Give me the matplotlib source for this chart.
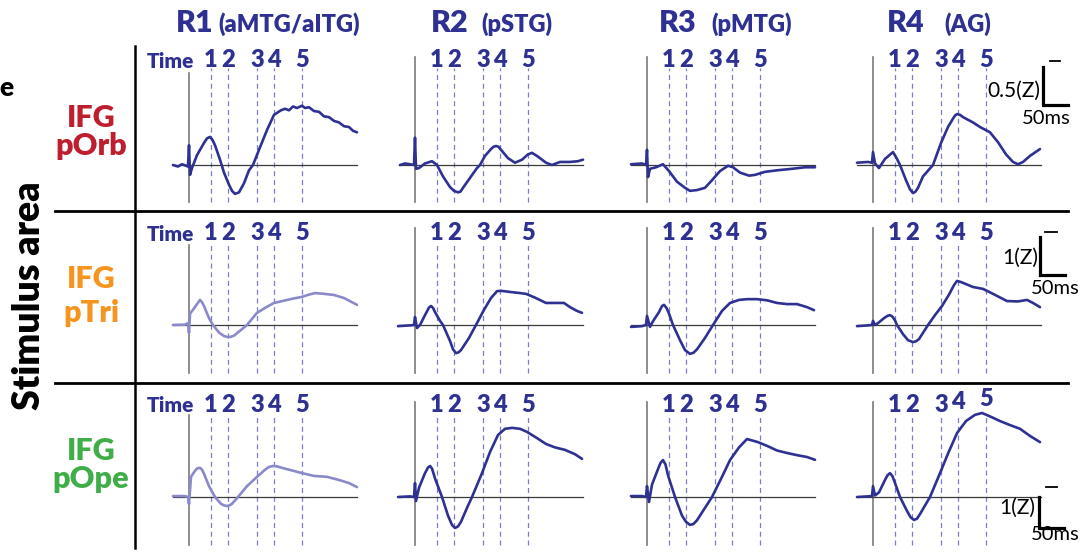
import matplotlib
matplotlib.use('Agg')
import matplotlib.pyplot as plt
from matplotlib.lines import Line2D

plt.rcParams['font.family'] = ['Lato', 'DejaVu Sans']

# ---- data: time (ms) and response (Z) ----
time_marks = [44, 78, 136, 170, 226]
mark_labels = ['1', '2', '3', '4', '5']
col_names = ['R1', 'R2', 'R3', 'R4']
col_regions = ['(aMTG/aITG)', '(pSTG)', '(pMTG)', '(AG)']
row_areas = ['pOrb', 'pTri', 'pOpe']
row_colors = ['#be1e2d', '#f7941d', '#3fae49']
scale_labels = ['0.5(Z)', '1(Z)', '1(Z)']
scale_heights = [0.5, 1, 1]

# IFG pOrb
porb_r1_t = [-32, -22, -14, -6, -2, 0, 2, 6, 16, 30, 36, 42, 47, 52, 62, 70, 80, 86, 92, 100, 110, 120, 128, 140, 156,
             170, 184, 192, 200, 208, 216, 226, 232, 240, 250, 260, 270, 280, 290, 300, 310, 320, 328, 336]
porb_r1_z = [0, -0.02, 0.01, -0.01, -0.02, 0.26, -0.13, -0.04, 0.13, 0.29, 0.35, 0.37, 0.33, 0.26, 0.07, -0.1, -0.26,
             -0.34, -0.38, -0.36, -0.24, -0.07, 0, 0.2, 0.46, 0.66, 0.72, 0.74, 0.72, 0.77, 0.75, 0.78, 0.75, 0.76,
             0.71, 0.7, 0.64, 0.63, 0.58, 0.56, 0.51, 0.5, 0.45, 0.43]
porb_r2_t = [-30, -20, -10, -2, 0, 2, 8, 20, 34, 44, 56, 70, 78, 86, 91, 96, 110, 124, 130, 140, 152, 157, 162, 167,
             172, 186, 200, 214, 226, 234, 246, 262, 274, 290, 310, 326, 336]
porb_r2_z = [0, 0.02, 0.01, 0, 0.36, -0.05, -0.04, 0.02, 0.05, 0, -0.15, -0.29, -0.34, -0.36, -0.35, -0.3, -0.17,
             -0.04, 0, 0.12, 0.21, 0.24, 0.25, 0.24, 0.2, 0.09, 0.03, 0.07, 0.14, 0.16, 0.11, 0.03, 0, 0.04, 0.04,
             0.05, 0.07]
porb_r3_t = [-32, -10, -2, 0, 2, 6, 18, 32, 44, 60, 76, 86, 100, 116, 130, 146, 162, 172, 186, 204, 216, 236, 260, 290,
             316, 336]
porb_r3_z = [0.01, 0.02, 0, 0.2, -0.16, -0.05, -0.03, 0.01, -0.08, -0.22, -0.3, -0.34, -0.33, -0.3, -0.2, -0.08, -0.01,
             -0.03, -0.1, -0.14, -0.13, -0.09, -0.07, -0.05, -0.03, -0.03]
porb_r4_t = [-32, -10, -2, 0, 4, 12, 24, 40, 48, 54, 66, 74, 80, 85, 90, 100, 120, 136, 150, 160, 164, 168, 174, 180,
             200, 214, 234, 250, 266, 280, 290, 300, 314, 334]
porb_r4_z = [0.03, 0.04, 0.03, 0.17, 0.02, -0.04, 0.08, 0.17, 0.08, 0, -0.2, -0.32, -0.37, -0.35, -0.3, -0.15, 0, 0.29,
             0.5, 0.61, 0.65, 0.67, 0.66, 0.63, 0.56, 0.5, 0.43, 0.3, 0.14, 0.04, 0.01, 0.04, 0.12, 0.21]

# IFG pTri
ptri_r1_t = [-32, -8, -2, 0, 2, 8, 16, 22, 26, 30, 40, 48, 60, 70, 78, 84, 90, 104, 116, 136, 152, 170, 190, 210, 226,
             240, 252, 270, 290, 310, 326, 336]
ptri_r1_z = [0, 0.01, 0.05, -0.21, 0.3, 0.4, 0.55, 0.66, 0.6, 0.5, 0.18, 0, -0.2, -0.29, -0.32, -0.31, -0.28, -0.13, 0,
             0.32, 0.45, 0.58, 0.64, 0.7, 0.74, 0.8, 0.84, 0.82, 0.79, 0.71, 0.6, 0.53]
ptri_r2_t = [-34, -10, -2, 0, 4, 10, 20, 28, 32, 36, 40, 50, 56, 70, 76, 82, 87, 92, 108, 122, 138, 152, 164, 172, 190,
             210, 222, 240, 262, 280, 298, 310, 324, 334]
ptri_r2_z = [-0.03, -0.01, 0, 0.21, -0.08, 0, 0.26, 0.46, 0.5, 0.45, 0.34, 0.11, 0, -0.42, -0.64, -0.74, -0.72, -0.66,
             -0.34, 0, 0.4, 0.71, 0.89, 0.9, 0.87, 0.84, 0.82, 0.72, 0.58, 0.58, 0.58, 0.47, 0.37, 0.32]
ptri_r3_t = [-32, -10, -2, 0, 6, 12, 24, 30, 34, 39, 44, 52, 66, 76, 86, 93, 100, 116, 132, 150, 166, 184, 200, 220,
             240, 260, 280, 300, 320, 334]
ptri_r3_z = [-0.05, -0.03, 0, 0.24, -0.05, 0.1, 0.34, 0.5, 0.53, 0.45, 0.3, 0, -0.4, -0.66, -0.76, -0.73, -0.64, -0.34,
             0, 0.37, 0.58, 0.66, 0.68, 0.68, 0.65, 0.58, 0.55, 0.55, 0.47, 0.39]
ptri_r4_t = [-32, -10, -2, 0, 4, 10, 22, 29, 34, 39, 44, 48, 60, 70, 80, 86, 92, 110, 124, 138, 152, 162, 168, 176,
             200, 220, 240, 268, 290, 308, 320, 334]
ptri_r4_z = [-0.03, -0.01, 0, 0.11, 0, 0.05, 0.18, 0.24, 0.26, 0.22, 0.12, 0, -0.24, -0.4, -0.45, -0.43, -0.37, 0,
             0.26, 0.5, 0.8, 1.05, 1.16, 1.13, 1.0, 0.95, 0.82, 0.63, 0.62, 0.66, 0.58, 0.47]

# IFG pOpe
pope_r1_t = [-32, -8, -2, 0, 4, 10, 16, 22, 26, 30, 40, 52, 64, 70, 76, 81, 86, 98, 116, 136, 152, 160, 168, 176, 186,
             210, 226, 250, 276, 300, 320, 336]
pope_r1_z = [0.03, 0.03, 0, -0.23, 0.65, 0.8, 0.92, 0.94, 0.88, 0.75, 0.35, 0, -0.22, -0.27, -0.29, -0.27, -0.22, 0,
             0.35, 0.65, 0.88, 0.97, 1.0, 0.99, 0.94, 0.84, 0.77, 0.68, 0.65, 0.55, 0.45, 0.32]
pope_r2_t = [-34, -10, -2, 0, 2, 8, 20, 26, 30, 34, 40, 54, 66, 74, 80, 86, 92, 104, 114, 134, 150, 166, 180, 194, 210,
             224, 244, 262, 280, 300, 320, 334]
pope_r2_z = [0, 0.02, 0, 0.45, -0.13, 0.3, 0.77, 0.95, 1.0, 0.92, 0.6, 0, -0.6, -0.9, -1.0, -0.95, -0.8, -0.35, 0, 0.77,
             1.45, 2.0, 2.2, 2.23, 2.2, 2.1, 1.9, 1.71, 1.6, 1.52, 1.38, 1.23]
pope_r3_t = [-32, -10, -2, 0, 4, 10, 22, 27, 32, 37, 42, 56, 70, 78, 86, 93, 100, 116, 130, 150, 166, 184, 200, 222,
             240, 260, 280, 300, 320, 336]
pope_r3_z = [0.03, 0.03, 0, 0.35, -0.16, 0.4, 0.9, 1.1, 1.19, 1.05, 0.7, 0, -0.6, -0.8, -0.9, -0.87, -0.75, -0.35, 0,
             0.65, 1.19, 1.6, 1.87, 1.77, 1.65, 1.5, 1.42, 1.35, 1.29, 1.2]
pope_r4_t = [-32, -10, -2, 0, 4, 12, 24, 29, 34, 39, 44, 54, 68, 75, 82, 88, 94, 114, 134, 150, 168, 186, 204, 218,
             234, 254, 274, 294, 314, 334]
pope_r4_z = [0, 0.02, 0.03, 0.35, 0.05, 0.15, 0.55, 0.7, 0.77, 0.67, 0.45, 0, -0.45, -0.65, -0.74, -0.7, -0.55, 0, 0.77,
             1.4, 2.06, 2.45, 2.65, 2.71, 2.6, 2.45, 2.32, 2.2, 1.97, 1.77]

traces = [
    [(porb_r1_t, porb_r1_z), (porb_r2_t, porb_r2_z), (porb_r3_t, porb_r3_z), (porb_r4_t, porb_r4_z)],
    [(ptri_r1_t, ptri_r1_z), (ptri_r2_t, ptri_r2_z), (ptri_r3_t, ptri_r3_z), (ptri_r4_t, ptri_r4_z)],
    [(pope_r1_t, pope_r1_z), (pope_r2_t, pope_r2_z), (pope_r3_t, pope_r3_z), (pope_r4_t, pope_r4_z)],
]

# ---- layout (pixels of the 1088x554 picture) ----
W, H = 1088, 554
NAVY = '#2e3192'
LIGHT = '#8a8acb'
DASH = '#7d7dc6'
WT = 'heavy'

zero_px = [189, 415, 647, 873]
base_px = [165, 325, 497]
px_per_z = [76, 38, 31]
row_span = [(40, 211), (212, 382), (383, 554)]
zero_top = [(73, 57), (245, 228), (415, 402)]
dash_top = [68, 243, 416]
line_bot = [202, 373, 545]
num_y = [60, 233, 405]

fig = plt.figure(figsize=(W / 100, H / 100), dpi=100)


def fx(x):
    return x / W


def fy(y):
    return 1 - y / H


def zpix(r, y):
    # picture row -> Z value in row r
    return (base_px[r] - y) / px_per_z[r]


for r in range(3):
    top, bot = row_span[r]
    for c in range(4):
        left = zero_px[c] - 45
        right = min(zero_px[c] + 215, W)
        ax = fig.add_axes([fx(left), fy(bot), (right - left) / W, (bot - top) / H])
        ax.set_xlim((left - zero_px[c]) * 2, (right - zero_px[c]) * 2)
        ax.set_ylim(zpix(r, bot), zpix(r, top))
        ax.axis('off')

        zt = zero_top[r][0] if c == 0 else zero_top[r][1]
        ax.plot([0, 0], [zpix(r, line_bot[r]), zpix(r, zt)], color='#7a7a7a', lw=1.2)
        for tm in time_marks:
            ax.plot([tm, tm], [zpix(r, line_bot[r]), zpix(r, dash_top[r])], color=DASH, lw=0.9,
                    ls=(0, (4, 3)))
        ax.plot([-32, 336], [0, 0], color='#3a3a3a', lw=0.9)

        t, z = traces[r][c]
        ax.plot(t, z, color=LIGHT if (c == 0 and r > 0) else NAVY, lw=1.9,
                solid_capstyle='round', solid_joinstyle='round')

        for i, tm in enumerate(time_marks):
            dy = 0
            if r == 2 and c == 3 and i >= 3:
                dy = [3, 6][i - 3]
            ax.text(tm, zpix(r, num_y[r] - dy), mark_labels[i], ha='center', va='center', fontsize=17,
                    fontweight=WT, color=NAVY)
        if c == 0:
            ax.text(10, zpix(r, num_y[r] + 1), 'Time', ha='right', va='center', fontsize=15,
                    fontweight=WT, color=NAVY)

        if c == 3:
            bar_x = [340, 334, 332][r]
            bar_z = [zpix(0, 105), zpix(1, 275), zpix(2, 528)][r]
            hgt = scale_heights[r]
            ax.plot([bar_x, bar_x, bar_x + 50], [bar_z + hgt, bar_z, bar_z], color='black', lw=2.3,
                    solid_joinstyle='miter', clip_on=False)
            tick_t = [(354, 374), (344, 368), (346, 368)][r]
            tick_z = [zpix(0, 61), zpix(1, 232), zpix(2, 487)][r]
            ax.plot(tick_t, [tick_z, tick_z], color='black', lw=1.3, clip_on=False)
            lab_t = [334, 330, 324][r]
            lab_z = [zpix(0, 91), zpix(1, 258), zpix(2, 508)][r]
            ax.text(lab_t, lab_z, scale_labels[r], ha='right', va='center', fontsize=15, color='black')
            ms_t = [347, 364, 364][r]
            ms_z = [zpix(0, 118), zpix(1, 288), zpix(2, 535)][r]
            ax.text(ms_t, ms_z, '50ms', ha='center', va='center', fontsize=14.5, color='black',
                    clip_on=False)

# column titles
name_x = [176, 431, 659, 887]
region_x = [218, 481, 711, 944]
for c in range(4):
    fig.text(fx(name_x[c]), fy(23), col_names[c], ha='left', va='center', fontsize=22,
             fontweight=WT, color=NAVY)
    fig.text(fx(region_x[c]), fy(24), col_regions[c], ha='left', va='center', fontsize=17,
             fontweight=WT, color=NAVY)

# row labels
ifg_base = [127, 288, 460]
area_base = [155, 322, 488]
for r in range(3):
    fig.text(fx(91), fy(ifg_base[r]), 'IFG', ha='center', va='baseline', fontsize=22,
             fontweight=WT, color=row_colors[r])
    fig.text(fx(91), fy(area_base[r]), row_areas[r], ha='center', va='baseline', fontsize=22,
             fontweight=WT, color=row_colors[r])

fig.text(fx(29), fy(296), 'Stimulus area', rotation=90, ha='center', va='center', fontsize=27,
         fontweight=WT, color='black')
fig.text(fx(13), fy(88), 'e', ha='right', va='center', fontsize=19, fontweight=WT, color='black')

# frame lines
for y in [211, 383]:
    fig.add_artist(Line2D([fx(55), fx(1068)], [fy(y), fy(y)], color='black', lw=2.0,
                          transform=fig.transFigure))
fig.add_artist(Line2D([fx(135), fx(135)], [fy(46), fy(548)], color='black', lw=1.8,
                      transform=fig.transFigure))

fig.savefig('out.png', dpi=100, facecolor='white')
